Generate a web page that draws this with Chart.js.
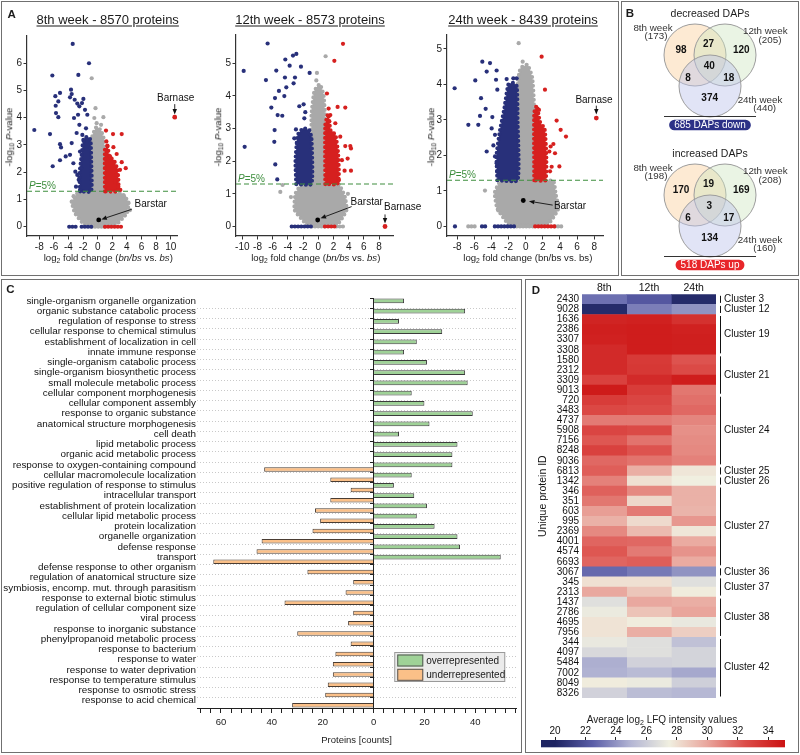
<!DOCTYPE html>
<html>
<head>
<meta charset="utf-8">
<title>Proteome figure</title>
<script src="https://cdn.jsdelivr.net/npm/chart.js@4.4.0/dist/chart.umd.min.js"></script>
<style>
html,body{margin:0;padding:0;background:#fff;}
#fig{position:relative;width:800px;height:755px;overflow:hidden;background:#fff;font-family:"Liberation Sans",Arial,Helvetica,sans-serif;color:#1b1b1b;}
.box{position:absolute;border:1.5px solid #707070;box-sizing:border-box;}
.t{position:absolute;white-space:nowrap;line-height:1;}
.c{transform:translate(-50%,-50%);}
.rot{transform:translate(-50%,-50%) rotate(-90deg);}
.pl{font-weight:bold;font-size:11.5px;}
.ttl{font-size:13px;text-decoration:underline;text-underline-offset:2px;}
.ax{font-size:9.6px;}
sub{font-size:70%;vertical-align:-2px;line-height:0;}
canvas{position:absolute;}
</style>
</head>
<body>
<div id="fig">
  <div class="box" style="left:1px;top:1px;width:618px;height:275px"></div>
  <div class="box" style="left:621px;top:1px;width:178px;height:275px"></div>
  <div class="box" style="left:1px;top:279px;width:521px;height:474px"></div>
  <div class="box" style="left:525px;top:279px;width:274px;height:474px"></div>

  <canvas id="v8" width="196" height="270" style="left:3px;top:3px"></canvas>
  <canvas id="v12" width="210" height="270" style="left:212px;top:3px"></canvas>
  <canvas id="v24" width="196" height="270" style="left:423px;top:3px"></canvas>
  <canvas id="venn" width="175" height="271" style="left:622px;top:3px"></canvas>
  <canvas id="cBar" width="518" height="469" style="left:2px;top:282px"></canvas>
  <canvas id="dHeat" width="270" height="425" style="left:527px;top:282px"></canvas>
  <canvas id="dBar" width="270" height="47" style="left:527px;top:705px"></canvas>

  <div class="t c pl" style="left:11.7px;top:14.7px">A</div>
  <div class="t c pl" style="left:630px;top:13.7px">B</div>
  <div class="t c pl" style="left:10.3px;top:290px">C</div>
  <div class="t c pl" style="left:536px;top:290.5px">D</div>

  <div class="t c ttl" style="left:107.7px;top:18.8px">8th week - 8570 proteins</div>
  <div class="t c ttl" style="left:310px;top:18.8px">12th week - 8573 proteins</div>
  <div class="t c ttl" style="left:523px;top:18.8px">24th week - 8439 proteins</div>

  <div class="t rot ax" style="left:9.3px;top:136.7px">-log<sub>10</sub> <i>P</i>-value</div>
  <div class="t rot ax" style="left:218.3px;top:136.7px">-log<sub>10</sub> <i>P</i>-value</div>
  <div class="t rot ax" style="left:430.7px;top:136.7px">-log<sub>10</sub> <i>P</i>-value</div>

  <div class="t c ax" style="left:108.3px;top:258px">log<sub>2</sub> fold change (<i>bn/bs</i> vs. <i>bs</i>)</div>
  <div class="t c ax" style="left:315.8px;top:258px">log<sub>2</sub> fold change (<i>bn/bs</i> vs. <i>bs</i>)</div>
  <div class="t c ax" style="left:527.8px;top:258px">log<sub>2</sub> fold change (bn/bs vs. bs)</div>

  <div class="t c" style="left:662px;top:719.5px;font-size:10px">Average log<sub>2</sub> LFQ intensity values</div>
</div>

<script>
// ======================= DATA =======================
// ---- Panel A: volcano plots (log2 fold change, -log10 P) ----
const pThreshold = 1.3; // -log10(0.05)

const v8Blue = [[-3.42,6.71],[-1.19,6.0],[-2.65,5.57],[-6.21,5.55],[-5.16,4.91],[-5.8,4.79],[-5.39,4.6],[-5.75,4.44],[-5.71,4.17],[-5.39,4.02],[-3.65,5.03],[-3.56,4.87],[-3.79,4.75],[-1.96,4.69],[-2.15,4.54],[-2.51,4.42],[-2.69,4.11],[-1.74,4.29],[-3.15,4.66],[-2.79,4.52],[-3.24,3.99],[-2.51,3.74],[-1.6,3.61],[-8.68,3.55],[-6.53,3.4],[-5.16,3.03],[-5.02,2.91],[-4.38,2.58],[-5.16,2.44],[-6.16,2.22],[-3.56,3.07],[-3.79,2.64],[-3.33,2.33],[-3.06,2.02],[-2.79,1.9],[-2.6,1.72],[-2.28,2.15],[-2.42,2.76],[-1.96,3.19],[-2.1,3.37],[-2.88,3.44],[-1.42,4.11],[-2.97,1.47],[-2.42,1.35]];
const v8Red = [[1.14,3.53],[2.1,3.4],[3.29,3.4],[1.19,3.13],[1.32,2.98],[2.15,2.92],[2.6,2.67],[3.29,2.37],[3.84,2.15],[3.06,2.09],[2.6,1.9],[2.37,1.66],[2.83,1.47],[1.69,2.58],[3.1,1.35]];
const v8Grey = [[-0.82,5.45],[-0.46,3.99],[0.46,3.74],[0.78,4.02],[-0.14,3.8],[-3.56,0.92],[4.43,0.61],[4.2,0.86],[3.6,1.12],[-3.3,1.12],[-0.3,4.35]];
const v8GreyCloud = [[-1.8,0.05],[-3.1,0.5],[-3.5,0.9],[-2.8,1.22],[-1.0,1.3],[-0.95,2.9],[-0.75,3.3],[-0.2,3.65],[0.4,3.55],[0.85,3.2],[0.95,1.3],[3.3,1.22],[4.2,0.9],[4.0,0.5],[2.3,0.05]];
const v8BlueCloud = [[-2.4,1.3],[-2.5,1.9],[-2.2,2.6],[-2.0,3.1],[-1.5,3.3],[-1.0,3.2],[-0.9,2.5],[-0.9,1.3]];
const v8RedCloud = [[1.0,1.3],[1.0,2.85],[1.35,2.95],[1.6,2.55],[2.2,2.45],[2.7,2.1],[2.85,1.6],[2.7,1.3]];
const v8ZeroBlue = [[-3.9,-2.9],[-2.2,-0.8]];
const v8ZeroGrey = [[-0.8,1.0]];
const v8ZeroRed = [[1.0,3.3]];
const v8Barstar = [0.14,0.25];
const v8Barnase = [10.55,4.02];
const v8XTicks = [-8,-6,-4,-2,0,2,4,6,8,10];
const v8YTicks = [0,1,2,3,4,5,6];

const v12Blue = [[-6.67,5.6],[-9.82,4.76],[-6.89,4.48],[-9.69,2.44],[-3.33,5.23],[-2.89,5.28],[-4.34,5.11],[-3.77,4.92],[-5.53,4.77],[-2.28,4.89],[-1.14,4.7],[-4.39,4.56],[-3.07,4.56],[-3.25,4.38],[-4.21,4.26],[-5.18,4.15],[-5.7,3.93],[-4.47,3.99],[-6.18,3.64],[-5.35,3.41],[-4.74,3.39],[-2.5,3.68],[-1.93,3.74],[-1.71,3.5],[-1.84,3.31],[-5.75,2.95],[-5.79,2.59],[-5.66,1.9],[-2.94,2.97],[-3.16,2.7],[-2.81,2.54],[-5.4,1.44]];
const v12Red = [[3.25,5.59],[2.11,5.07],[1.14,4.07],[1.36,3.61],[2.54,3.66],[3.55,3.64],[1.58,3.41],[1.45,3.21],[2.24,3.16],[1.8,2.85],[2.89,2.75],[3.55,2.46],[4.21,2.46],[4.3,2.39],[3.86,2.08],[3.46,1.71],[4.3,1.71],[2.72,1.42],[3.11,2.03]];
const v12Grey = [[0.96,5.21],[-0.18,4.7],[-0.26,4.47],[-5.0,1.06],[-4.7,1.27],[3.9,1.0],[-3.6,0.9]];
const v12GreyCloud = [[-1.5,0.05],[-3.1,0.5],[-3.0,1.0],[-2.2,1.28],[-0.9,1.32],[-0.9,3.4],[-0.5,4.15],[0.2,4.35],[0.7,4.0],[0.88,3.3],[0.88,1.32],[2.7,1.28],[3.5,0.9],[3.7,0.5],[2.4,0.05]];
const v12BlueCloud = [[-2.9,1.3],[-3.0,2.0],[-2.7,2.8],[-2.0,3.0],[-1.2,2.95],[-0.9,2.7],[-0.9,1.3]];
const v12RedCloud = [[0.92,1.3],[0.92,3.1],[1.3,3.45],[1.6,2.95],[2.25,2.8],[2.6,2.25],[2.7,1.6],[2.5,1.3]];
const v12ZeroBlue = [[-3.5,-0.85]];
const v12ZeroGrey = [[-0.85,0.87],[2.4,3.6]];
const v12ZeroRed = [[0.87,2.4]];
const v12Barstar = [-0.08,0.2];
const v12Barnase = [8.78,0];
const v12XTicks = [-10,-8,-6,-4,-2,0,2,4,6,8];
const v12YTicks = [0,1,2,3,4,5];

const v24Blue = [[-8.29,3.89],[-5.88,4.11],[-5.06,4.64],[-4.16,4.6],[-4.55,4.36],[-3.39,4.39],[-3.46,4.13],[-3.31,3.85],[-5.21,3.61],[-4.67,3.31],[-5.33,3.11],[-6.69,2.86],[-5.53,2.86],[-3.89,3.08],[-3.97,2.76],[-3.58,2.58],[-4.55,2.11],[-3.77,2.28],[-3.58,1.97],[-3.39,1.78],[-3.31,1.54],[-2.22,4.15],[-2.02,3.99],[-1.44,4.17],[-1.05,4.17],[-8.25,0]];
const v24Red = [[1.86,4.78],[2.25,3.85],[1.55,3.28],[3.61,2.98],[4.08,2.72],[4.7,2.53],[3.23,2.32],[2.91,2.25],[2.76,2.11],[3.42,2.06],[3.93,1.69],[2.84,1.55],[3.03,1.68]];
const v24Grey = [[-0.82,5.16],[-0.35,4.64],[-4.75,1.01],[-3.2,0.45]];
const v24GreyCloud = [[-2.0,0.05],[-3.3,0.5],[-3.6,0.95],[-2.9,1.28],[-1.0,1.32],[-1.0,3.9],[-0.6,4.45],[0.2,4.55],[0.75,4.2],[0.95,3.5],[0.95,1.32],[3.2,1.28],[3.5,0.9],[3.8,0.5],[2.5,0.05]];
const v24BlueCloud = [[-3.3,1.3],[-3.4,2.0],[-3.0,2.7],[-2.5,3.3],[-2.1,3.9],[-1.6,4.05],[-1.05,3.95],[-0.95,3.0],[-0.95,1.3]];
const v24RedCloud = [[1.0,1.3],[1.0,3.2],[1.3,3.4],[1.65,2.95],[2.2,2.75],[2.4,2.0],[2.3,1.3]];
const v24ZeroBlue = [[-5.1,-4.5],[-3.6,-1.05]];
const v24ZeroGrey = [[-6.7,-5.7],[-1.05,1.1],[3.4,4.2]];
const v24ZeroRed = [[1.1,3.4]];
const v24Barstar = [-0.28,0.73];
const v24Barnase = [8.24,3.05];
const v24XTicks = [-8,-6,-4,-2,0,2,4,6,8];
const v24YTicks = [0,1,2,3,4,5];

// ---- Panel B: Venn counts [only8, 8&12, only12, all, 8&24, 12&24, only24] ----
const vennWeeks = ['8th week','12th week','24th week'];
const vennDownCounts = [98,27,120,40,8,18,374];
const vennDownTotals = [173,205,440];
const vennDownUnion = 685;
const vennUpCounts = [170,19,169,3,6,17,134];
const vennUpTotals = [198,208,160];
const vennUpUnion = 518;

// ---- Panel C: GO terms ----
const goTerms = ['single-organism organelle organization','organic substance catabolic process','regulation of response to stress','cellular response to chemical stimulus','establishment of localization in cell','innate immune response','single-organism catabolic process','single-organism biosynthetic process','small molecule metabolic process','cellular component morphogenesis','cellular component assembly','response to organic substance','anatomical structure morphogenesis','cell death','lipid metabolic process','organic acid metabolic process','response to oxygen-containing compound','cellular macromolecule localization','positive regulation of response to stimulus','intracellular transport','establishment of protein localization','cellular lipid metabolic process','protein localization','organelle organization','defense response','transport','defense response to other organism','regulation of anatomical structure size','symbiosis, encomp. mut. through parasitism','response to external biotic stimulus','regulation of cellular component size','viral process','response to inorganic substance','phenylpropanoid metabolic process','response to bacterium','response to water','response to water deprivation','response to temperature stimulus','response to osmotic stress','response to acid chemical'];
const overrep = [12,36,10,27,17,12,21,36,37,15,20,39,22,10,33,31,31,15,8,16,21,17,24,33,34,50,null,null,null,null,null,null,null,null,null,null,null,null,null,null];
const underrep = [null,null,null,null,null,null,null,null,null,null,null,null,null,null,null,null,43,17,9,17,23,21,24,44,46,63,26,8,11,35,8,10,30,9,15,16,16,18,19,32];
const cTickLabels = [-60,-40,-20,0,20,40];
const cMinorStep = 4;

// ---- Panel D: heatmap (average log2 LFQ intensity) ----
const heatCols = ['8th','12th','24th'];
const proteinIds = ['2430','9028','1636','2386','3307','3308','1580','2312','3309','9013','720','3483','4737','5908','7156','8248','9036','6813','1342','346','351','603','995','2369','4001','4574','6693','3067','345','2313','1437','2786','4695','7956','344','4097','5484','7002','8049','8326'];
const lfq8  = [23.0,20.3,34.3,34.5,34.4,34.0,34.0,34.0,33.0,34.7,33.2,32.7,31.2,32.8,32.2,33.0,31.7,32.0,31.0,31.9,31.3,30.2,29.6,30.8,31.8,32.2,31.8,22.8,28.0,29.9,26.8,27.3,27.9,27.9,27.2,26.5,24.8,24.9,27.6,26.2];
const lfq12 = [22.2,23.4,34.4,34.6,34.6,34.6,33.3,33.4,34.0,33.2,32.8,32.5,31.2,32.6,31.4,32.3,31.4,29.7,28.0,30.8,28.3,31.2,28.2,29.3,31.7,31.2,32.0,23.3,28.0,28.9,29.9,29.0,27.6,29.7,26.8,26.8,26.2,25.2,27.3,25.3];
const lfq24 = [20.3,24.0,33.7,34.4,34.5,34.5,32.3,32.6,34.6,31.3,31.5,31.7,30.9,30.6,30.7,30.8,31.0,27.8,27.5,29.6,29.6,29.5,30.4,27.8,29.8,30.5,29.8,24.0,26.8,27.6,29.7,30.0,27.2,28.6,25.5,26.3,26.3,24.6,26.1,25.1];
const clusters = [['Cluster 3',0,0],['Cluster 12',1,1],['Cluster 19',2,5],['Cluster 21',6,9],['Cluster 24',10,16],['Cluster 25',17,17],['Cluster 26',18,18],['Cluster 27',19,26],['Cluster 36',27,27],['Cluster 37',28,29],['Cluster 38',30,33],['Cluster 42',34,39]];
const cbarTicks = [20,22,24,26,28,30,32,34];
const lfqMin = 19.08, lfqMax = 35.1;

// ======================= STYLE / SETUP =======================
const FONT = '"Liberation Sans", Arial, Helvetica, sans-serif';
Chart.defaults.font.family = FONT;
Chart.defaults.color = '#1b1b1b';
Chart.defaults.animation = false;
Chart.defaults.events = [];
Chart.defaults.layout.autoPadding = false;
Chart.defaults.plugins.legend.display = false;
Chart.defaults.plugins.tooltip.enabled = false;

const GREY = '#a9a9a9', NAVY = '#28307a', RED = '#d6201f', THR = '#3e8e3e';
const cmapStops = [[20,[30,36,98]],[22.5,[91,94,168]],[25,[180,182,212]],[27.5,[240,239,224]],[30,[233,165,156]],[32.5,[220,76,72]],[35,[204,20,20]]];
function rgb(c){return 'rgb('+c.map(Math.round).join(',')+')';}
function lfqColor(v){
  if (v <= cmapStops[0][0]) return rgb(cmapStops[0][1]);
  for (let i=1;i<cmapStops.length;i++){
    if (v <= cmapStops[i][0]){
      const [a,ca] = cmapStops[i-1], [b,cb] = cmapStops[i];
      const t = (v-a)/(b-a);
      return rgb(ca.map((c,k)=>c+(cb[k]-c)*t));
    }
  }
  return rgb(cmapStops[cmapStops.length-1][1]);
}
function P(a){return a.map(p=>({x:p[0],y:p[1]}));}
function poly(a){const r=P(a); r.push({x:a[0][0],y:a[0][1]}); return r;}
function seg(s){return [{x:s[0],y:0},{x:s[1],y:0}];}
function arrow(ctx,x1,y1,x2,y2){
  const ang = Math.atan2(y2-y1,x2-x1), L=5.5, W=2.2;
  const bx = x2-L*Math.cos(ang), by = y2-L*Math.sin(ang);
  ctx.beginPath(); ctx.moveTo(x1,y1); ctx.lineTo(bx,by); ctx.lineWidth=0.9; ctx.stroke();
  ctx.beginPath(); ctx.moveTo(x2,y2);
  ctx.lineTo(bx+W*Math.sin(ang), by-W*Math.cos(ang));
  ctx.lineTo(bx-W*Math.sin(ang), by+W*Math.cos(ang));
  ctx.closePath(); ctx.fill();
}

// ======================= PANEL A =======================
function makeVolcano(id, v){
  const ds = [];
  // dense clouds: filled shape with a dotted (round-cap) outline that mimics the fringe of dots
  const cloud = (pts,col,order)=>({type:'line',data:poly(pts),borderColor:col,backgroundColor:col,borderWidth:4.2,borderCapStyle:'round',borderDash:[0,4.6],borderJoinStyle:'round',fill:'shape',pointRadius:0,tension:0.15,order});
  const row = (s,col,order)=>({type:'line',data:seg(s),borderColor:col,borderWidth:4.2,borderCapStyle:'round',borderDash:[0,3.2],pointRadius:0,fill:false,order});
  const dots = (pts,col,order,r)=>({data:P(pts),backgroundColor:col,borderWidth:0,pointRadius:r||2.1,order});
  ds.push(cloud(v.greyCloud,GREY,20));
  v.zeroGrey.forEach(s=>ds.push(row(s,GREY,19)));
  ds.push(cloud(v.blueCloud,NAVY,18));
  ds.push(cloud(v.redCloud,RED,18));
  v.zeroBlue.forEach(s=>ds.push(row(s,NAVY,17)));
  v.zeroRed.forEach(s=>ds.push(row(s,RED,17)));
  ds.push(dots(v.grey,GREY,16));
  ds.push(dots(v.blue,NAVY,15));
  ds.push(dots(v.red,RED,15));
  ds.push(dots([v.barstar],'#000',3,2.4));
  ds.push(dots([v.barnase],RED,3,2.4));
  ds.push({type:'line',data:[{x:v.xMin,y:pThreshold},{x:v.xMax,y:pThreshold}],borderColor:THR,borderWidth:1.1,borderDash:[5,3],pointRadius:0,fill:false,order:1});

  const anno = {id:'anno_'+id, afterDatasetsDraw(chart){
    const {ctx,chartArea:a,scales:{x,y}} = chart;
    ctx.save();
    ctx.fillStyle = THR; ctx.textBaseline='alphabetic'; ctx.textAlign='left';
    let px = a.left+2, py = y.getPixelForValue(pThreshold)-2;
    ctx.font = 'italic 10px '+FONT; ctx.fillText('P',px,py); px += ctx.measureText('P').width;
    ctx.font = '10px '+FONT; ctx.fillText('=5%',px,py);
    ctx.fillStyle='#111'; ctx.strokeStyle='#111'; ctx.textAlign='center'; ctx.textBaseline='middle';
    v.anno.forEach(an=>{
      ctx.fillText(an.text, x.getPixelForValue(an.t[0]), y.getPixelForValue(an.t[1]));
      arrow(ctx, x.getPixelForValue(an.f[0]), y.getPixelForValue(an.f[1]), x.getPixelForValue(an.e[0]), y.getPixelForValue(an.e[1]));
    });
    ctx.restore();
  }};

  new Chart(document.getElementById(id), {
    type:'scatter',
    data:{datasets:ds},
    options:{
      responsive:false, animation:false,
      layout:{autoPadding:false, padding:{top:v.padTop,right:v.padRight,left:0,bottom:0}},
      scales:{
        x:{type:'linear',min:v.xMin,max:v.xMax,
           afterFit:s=>{s.height=37;},
           afterBuildTicks:s=>{s.ticks=v.xTicks.map(t=>({value:t}));},
           ticks:{font:{size:10},padding:2,color:'#1b1b1b',autoSkip:false,maxRotation:0,callback:t=>String(t)},
           grid:{drawOnChartArea:false,tickLength:3.5,color:'#333'},
           border:{color:'#333',width:1.2}},
        y:{type:'linear',min:v.yMin,max:v.yMax,
           afterFit:s=>{s.width=24;},
           afterBuildTicks:s=>{s.ticks=v.yTicks.map(t=>({value:t}));},
           ticks:{font:{size:10},padding:1.5,color:'#1b1b1b',autoSkip:false,callback:t=>String(t)},
           grid:{drawOnChartArea:false,tickLength:3.5,color:'#333'},
           border:{color:'#333',width:1.2}}
      }
    },
    plugins:[anno]
  });
}

makeVolcano('v8',{blue:v8Blue,red:v8Red,grey:v8Grey,greyCloud:v8GreyCloud,blueCloud:v8BlueCloud,redCloud:v8RedCloud,
  zeroBlue:v8ZeroBlue,zeroGrey:v8ZeroGrey,zeroRed:v8ZeroRed,barstar:v8Barstar,barnase:v8Barnase,
  xMin:-9.68,xMax:10.86,yMin:-0.34,yMax:7.0,xTicks:v8XTicks,yTicks:v8YTicks,padTop:33,padRight:22,
  anno:[{text:'Barnase',t:[10.68,4.72],f:[10.55,4.5],e:[10.55,4.12]},{text:'Barstar',t:[7.26,0.84],f:[4.66,0.64],e:[0.5,0.27]}]});
makeVolcano('v12',{blue:v12Blue,red:v12Red,grey:v12Grey,greyCloud:v12GreyCloud,blueCloud:v12BlueCloud,redCloud:v12RedCloud,
  zeroBlue:v12ZeroBlue,zeroGrey:v12ZeroGrey,zeroRed:v12ZeroRed,barstar:v12Barstar,barnase:v12Barnase,
  xMin:-10.83,xMax:9.83,yMin:-0.29,yMax:5.86,xTicks:v12XTicks,yTicks:v12YTicks,padTop:32,padRight:29,
  anno:[{text:'Barnase',t:[11.1,0.59],f:[8.78,0.37],e:[8.78,0.09]},{text:'Barstar',t:[6.37,0.74],f:[4.39,0.61],e:[0.3,0.25]}]});
makeVolcano('v24',{blue:v24Blue,red:v24Red,grey:v24Grey,greyCloud:v24GreyCloud,blueCloud:v24BlueCloud,redCloud:v24RedCloud,
  zeroBlue:v24ZeroBlue,zeroGrey:v24ZeroGrey,zeroRed:v24ZeroRed,barstar:v24Barstar,barnase:v24Barnase,
  xMin:-9.18,xMax:9.02,yMin:-0.27,yMax:5.39,xTicks:v24XTicks,yTicks:v24YTicks,padTop:32,padRight:16,
  anno:[{text:'Barnase',t:[7.97,3.56],f:[8.24,3.4],e:[8.24,3.15]},{text:'Barstar',t:[5.17,0.56],f:[3.15,0.6],e:[0.38,0.71]}]});

// ======================= PANEL B =======================
const vennLayout = {
  circles:[[-15,0],[15,0],[0,31]], r:31,
  regions:[[-29,-5],[-1.5,-11],[31.3,-5],[-0.7,11.5],[-22,23.7],[18.7,23.7],[-0.3,43.7]],
  weekPos:[[-57,-27],[55.3,-23.7],[50,45.7]],
  totalPos:[[-54,-18.3],[60,-15],[54.7,53.3]],
  title:-40.7, rule:61, ruleHalf:46, pill:70,
  fills:['rgba(251,205,150,0.42)','rgba(205,228,190,0.42)','rgba(188,196,236,0.45)']
};
const vennDefs = [
  {title:'decreased DAPs',counts:vennDownCounts,totals:vennDownTotals,union:vennDownUnion,word:' DAPs down',pill:'#2c3187',cx:88,cy:52},
  {title:'increased DAPs',counts:vennUpCounts,totals:vennUpTotals,union:vennUpUnion,word:' DAPs up',pill:'#e8262a',cx:88,cy:192}
];
const vennData = [];
vennDefs.forEach(d=>vennLayout.circles.forEach((c,i)=>vennData.push({x:d.cx+c[0],y:d.cy+c[1],r:vennLayout.r,fill:vennLayout.fills[i]})));
const vennText = {id:'vennText', afterDatasetsDraw(chart){
  const {ctx,scales:{x,y}} = chart;
  ctx.save();
  vennDefs.forEach(d=>{
    const X = v=>x.getPixelForValue(d.cx+v), Y = v=>y.getPixelForValue(d.cy+v);
    ctx.textAlign='center'; ctx.textBaseline='middle';
    ctx.fillStyle='#1b1b1b'; ctx.font='10.5px '+FONT;
    ctx.fillText(d.title, X(0), Y(vennLayout.title));
    ctx.fillStyle='#333'; ctx.font='9.8px '+FONT;
    vennWeeks.forEach((w,i)=>{
      ctx.fillText(w, X(vennLayout.weekPos[i][0]), Y(vennLayout.weekPos[i][1]));
      ctx.fillText('('+d.totals[i]+')', X(vennLayout.totalPos[i][0]), Y(vennLayout.totalPos[i][1]));
    });
    ctx.fillStyle='#111'; ctx.font='bold 10px '+FONT;
    d.counts.forEach((n,i)=>ctx.fillText(String(n), X(vennLayout.regions[i][0]), Y(vennLayout.regions[i][1])));
    ctx.strokeStyle='#333'; ctx.lineWidth=1;
    const ry = Math.round(Y(vennLayout.rule))+0.5;
    ctx.beginPath(); ctx.moveTo(X(-vennLayout.ruleHalf), ry); ctx.lineTo(X(vennLayout.ruleHalf), ry); ctx.stroke();
    const txt = d.union + d.word;
    ctx.font='10px '+FONT;
    const w = ctx.measureText(txt).width + 10, h = 10.5, cx = X(0), cy = Y(vennLayout.pill);
    ctx.fillStyle = d.pill;
    ctx.beginPath();
    if (ctx.roundRect) ctx.roundRect(cx-w/2, cy-h/2, w, h, h/2); else ctx.rect(cx-w/2, cy-h/2, w, h);
    ctx.fill();
    ctx.fillStyle='#fff'; ctx.fillText(txt, cx, cy+0.5);
  });
  ctx.restore();
}};
new Chart(document.getElementById('venn'), {
  type:'bubble',
  data:{datasets:[{data:vennData, backgroundColor:vennData.map(p=>p.fill), borderColor:'#9c9c9c', borderWidth:1}]},
  options:{responsive:false, layout:{autoPadding:false, padding:0},
    scales:{x:{display:false,min:0,max:175},y:{display:false,min:0,max:271,reverse:true}}},
  plugins:[vennText]
});

// ======================= PANEL C =======================
const cTicks = [];
for (let v=-68; v<=56; v+=cMinorStep) cTicks.push(v);
const cLegend = {id:'cLegend', afterDraw(chart){
  const {ctx,chartArea:a} = chart, ds = chart.data.datasets;
  const w=111, h=30, x0=a.right-11-w, y0=a.bottom-26-h;
  ctx.save();
  ctx.fillStyle='#ebebeb'; ctx.fillRect(x0,y0,w,h);
  ctx.strokeStyle='#9a9a9a'; ctx.lineWidth=1; ctx.strokeRect(x0+0.5,y0+0.5,w-1,h-1);
  ds.forEach((d,i)=>{
    const sy = y0+2.5+i*14.3;
    ctx.fillStyle=d.backgroundColor; ctx.fillRect(x0+3,sy,26,12);
    ctx.strokeStyle='#555'; ctx.strokeRect(x0+3.5,sy+0.5,25,11);
    ctx.fillStyle='#1b1b1b'; ctx.font='10px '+FONT; ctx.textBaseline='middle'; ctx.textAlign='left';
    ctx.fillText(d.label, x0+32, sy+6.5);
  });
  ctx.restore();
}};
new Chart(document.getElementById('cBar'), {
  type:'bar',
  data:{labels:goTerms, datasets:[
    {label:'overrepresented', data:overrep, backgroundColor:'#9fd297', borderColor:'#3c3c3c', borderWidth:1, categoryPercentage:0.9, barPercentage:1, xAxisID:'x', yAxisID:'y'},
    {label:'underrepresented', data:underrep.map(v=>v==null?null:-v), backgroundColor:'#fbc088', borderColor:'#4a3d33', borderWidth:1, categoryPercentage:0.9, barPercentage:1, xAxisID:'x', yAxisID:'y'}
  ]},
  options:{indexAxis:'y', responsive:false,
    layout:{padding:{top:16,right:3,left:0,bottom:0}},
    scales:{
      x:{type:'linear', min:-69.4, max:56.1,
        afterFit:s=>{s.height=43;},
        afterBuildTicks:s=>{s.ticks=cTicks.map(v=>({value:v}));},
        ticks:{autoSkip:false, maxRotation:0, padding:4, font:{size:9.5}, color:'#1b1b1b', callback:v=>cTickLabels.includes(v)?String(Math.abs(v)):''},
        grid:{drawOnChartArea:false, tickLength:5, color:'#222'},
        border:{display:true, color:'#222', width:1},
        title:{display:true, text:'Proteins [counts]', font:{size:9.5}, color:'#1b1b1b', padding:{top:0,bottom:5}}},
      y:{type:'category',
        afterFit:s=>{s.width=195;},
        ticks:{autoSkip:false, padding:1, labelOffset:-2.3, font:{size:9.9}, color:'#111'},
        grid:{drawTicks:false, color:c=>c.index===0?'rgba(0,0,0,0)':'#c9c9c9', lineWidth:1},
        border:{display:false, dash:[1,2]}},
      y2:{type:'category', labels:goTerms, position:{x:0}, offset:true,
        ticks:{display:false},
        grid:{offset:true, drawOnChartArea:false, tickLength:3, color:'#222'},
        border:{display:true, color:'#222', width:1}}
    }
  },
  plugins:[cLegend]
});

// ======================= PANEL D =======================
const clusterPlugin = {id:'clusters', afterDatasetsDraw(chart){
  const {ctx,chartArea:a,scales:{y}} = chart;
  const rh = y.getPixelForValue(1)-y.getPixelForValue(0);
  ctx.save();
  ctx.strokeStyle='#111'; ctx.lineWidth=1; ctx.fillStyle='#111';
  ctx.font='10px '+FONT; ctx.textBaseline='middle'; ctx.textAlign='left';
  clusters.forEach(([name,from,to])=>{
    const top = y.getPixelForValue(from)-rh/2+1.5, bot = y.getPixelForValue(to)+rh/2-1.5;
    const lx = Math.round(a.right+4)+0.5;
    ctx.beginPath(); ctx.moveTo(lx,top); ctx.lineTo(lx,bot); ctx.stroke();
    ctx.fillText(name, a.right+8, (top+bot)/2);
  });
  ctx.restore();
}};
new Chart(document.getElementById('dHeat'), {
  type:'bar',
  data:{labels:proteinIds, datasets:[lfq8,lfq12,lfq24].map((vals,c)=>({
    label:heatCols[c], data:vals.map(()=>[c,c+1]), backgroundColor:vals.map(lfqColor),
    borderWidth:0, barPercentage:1, categoryPercentage:1, xAxisID:'x', yAxisID:'y'}))},
  options:{indexAxis:'y', responsive:false,
    layout:{padding:{top:0,right:81,bottom:6,left:0}},
    scales:{
      x:{type:'linear', position:'top', min:0, max:heatCols.length, stacked:false,
        afterFit:s=>{s.height=12.3;},
        afterBuildTicks:s=>{s.ticks=heatCols.map((_,i)=>({value:i+0.5}));},
        ticks:{callback:(v,i)=>heatCols[i], font:{size:10.5}, padding:0, color:'#111', autoSkip:false, maxRotation:0},
        grid:{display:false, drawTicks:false}, border:{display:false}},
      y:{type:'category', stacked:true,
        afterFit:s=>{s.width=55;},
        ticks:{autoSkip:false, padding:3, font:{size:10}, color:'#111'},
        grid:{display:false, drawTicks:false}, border:{display:false},
        title:{display:true, text:'Unique protein ID', font:{size:10.5}, color:'#111', padding:{top:9.5,bottom:0}}}
    }
  },
  plugins:[clusterPlugin]
});

const gradientPlugin = {id:'grad', beforeDatasetsDraw(chart){
  const {ctx,chartArea:a,scales:{x}} = chart;
  const g = ctx.createLinearGradient(a.left,0,a.right,0);
  g.addColorStop(0, lfqColor(x.min));
  cmapStops.forEach(([v])=>{
    const t=(x.getPixelForValue(v)-a.left)/(a.right-a.left);
    if (t>0 && t<1) g.addColorStop(t, lfqColor(v));
  });
  g.addColorStop(1, lfqColor(x.max));
  ctx.save(); ctx.fillStyle=g; ctx.fillRect(a.left,a.top,a.right-a.left,a.bottom-a.top); ctx.restore();
}};
new Chart(document.getElementById('dBar'), {
  type:'scatter',
  data:{datasets:[{data:[]}]},
  options:{responsive:false,
    layout:{padding:{left:14,right:12,top:0,bottom:4.7}},
    scales:{
      x:{type:'linear', position:'top', min:lfqMin, max:lfqMax,
        afterFit:s=>{s.height=35;},
        afterBuildTicks:s=>{s.ticks=cbarTicks.map(v=>({value:v}));},
        ticks:{padding:0, font:{size:10}, color:'#111', autoSkip:false, maxRotation:0},
        grid:{drawOnChartArea:false, tickLength:3, color:'#222'}, border:{display:false}},
      y:{display:false, min:0, max:1}
    }
  },
  plugins:[gradientPlugin]
});
</script>
</body>
</html>
